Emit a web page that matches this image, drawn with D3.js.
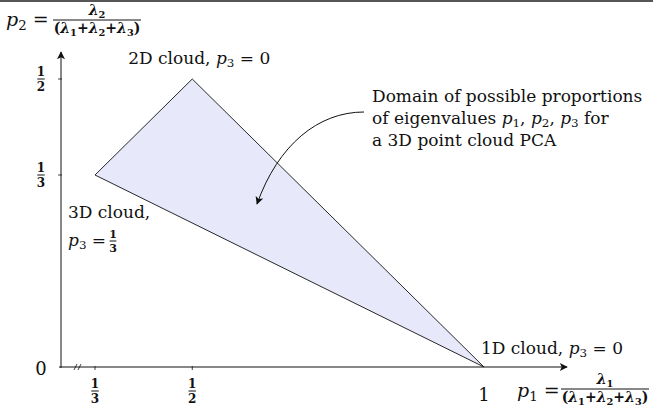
<!DOCTYPE html>
<html>
<head>
<meta charset="utf-8">
<script src="https://cdn.jsdelivr.net/npm/d3@7"></script>
<style>
body { margin: 0; background: #fff; }
svg text { font-family: "DejaVu Serif", serif; fill: #111; }
</style>
</head>
<body>
<svg id="chart" width="653" height="414"></svg>
<script>
// triangle of possible eigenvalue proportions (p1, p2)
var vertices = [
  {p1: 1/3, p2: 1/3, name: "3D"},
  {p1: 1/2, p2: 1/2, name: "2D"},
  {p1: 1,   p2: 0,   name: "1D"}
];
var xTicks = [{v: 1/3, num: "1", den: "3"}, {v: 1/2, num: "1", den: "2"}, {v: 1, label: "1"}];
var yTicks = [{v: 0, label: "0"}, {v: 1/3, num: "1", den: "3"}, {v: 1/2, num: "1", den: "2"}];

var svg = d3.select("#chart");

var x = d3.scaleLinear().domain([1/3, 1]).range([95, 484]);
var y = d3.scaleLinear().domain([0, 1/2]).range([367, 79]);

var axisX0 = 61, axisY0 = y(0);

// top border line
svg.append("line").attr("x1", 0).attr("x2", 653).attr("y1", 1).attr("y2", 1)
    .attr("stroke", "#555").attr("stroke-width", 2);

var defs = svg.append("defs");
defs.append("marker").attr("id", "arr")
    .attr("viewBox", "0 0 10 10").attr("refX", 9).attr("refY", 5)
    .attr("markerWidth", 9).attr("markerHeight", 8).attr("markerUnits", "userSpaceOnUse")
    .attr("orient", "auto")
  .append("path").attr("d", "M0,0 L10,5 L0,10 L2.5,5 Z").attr("fill", "#111");

// domain triangle
svg.append("path")
    .datum(vertices)
    .attr("d", d3.line().x(function(d) { return x(d.p1); }).y(function(d) { return y(d.p2); }).curve(d3.curveLinearClosed))
    .attr("fill", "#e8e8fb")
    .attr("stroke", "#111")
    .attr("stroke-width", 0.9);

// axes
svg.append("line").attr("x1", axisX0 - 2).attr("x2", 567).attr("y1", axisY0).attr("y2", axisY0)
    .attr("stroke", "#111").attr("stroke-width", 1).attr("marker-end", "url(#arr)");
svg.append("line").attr("x1", axisX0).attr("x2", axisX0).attr("y1", axisY0 + 1).attr("y2", 52)
    .attr("stroke", "#111").attr("stroke-width", 1).attr("marker-end", "url(#arr)");

// axis break marks
[0, 4].forEach(function(o) {
  svg.append("line").attr("x1", 74 + o).attr("x2", 77 + o).attr("y1", axisY0 + 3).attr("y2", axisY0 - 3)
      .attr("stroke", "#111").attr("stroke-width", 0.8);
});

function frac(g, cx, cy, num, den, size, weight) {
  var w = Math.max(num.length, den.length) * size * 0.62;
  g.append("text").attr("x", cx).attr("y", cy - 3).attr("text-anchor", "middle")
      .attr("font-size", size).attr("font-weight", weight).text(num);
  g.append("line").attr("x1", cx - w / 2).attr("x2", cx + w / 2).attr("y1", cy).attr("y2", cy)
      .attr("stroke", "#111").attr("stroke-width", 1);
  g.append("text").attr("x", cx).attr("y", cy + size).attr("text-anchor", "middle")
      .attr("font-size", size).attr("font-weight", weight).text(den);
}

// x ticks
xTicks.forEach(function(t) {
  var px = x(t.v);
  if (t.v < 1) {
    svg.append("line").attr("x1", px).attr("x2", px).attr("y1", axisY0 - 1).attr("y2", axisY0 + 3)
        .attr("stroke", "#111").attr("stroke-width", 0.8);
  }
  if (t.label) {
    svg.append("text").attr("x", px).attr("y", 401).attr("text-anchor", "middle")
        .attr("font-size", 18).text(t.label);
  } else {
    frac(svg, px, 391, t.num, t.den, 12, "bold");
  }
});

// y ticks
yTicks.forEach(function(t) {
  var py = y(t.v);
  if (t.v > 0) {
    svg.append("line").attr("x1", axisX0 - 3).attr("x2", axisX0 + 1).attr("y1", py).attr("y2", py)
        .attr("stroke", "#111").attr("stroke-width", 0.8);
  }
  if (t.label) {
    svg.append("text").attr("x", 41).attr("y", py + 8).attr("text-anchor", "middle")
        .attr("font-size", 18).text(t.label);
  } else {
    frac(svg, 41, py, t.num, t.den, 12, "bold");
  }
});

// math helper: parts are [text, italic, sub, back-to-baseline]
function mathText(g, xx, yy, parts, size, anchor, weight) {
  var t = g.append("text").attr("x", xx).attr("y", yy).attr("font-size", size)
      .attr("text-anchor", anchor || "start").attr("font-weight", weight || "normal");
  parts.forEach(function(p) {
    var s = t.append("tspan").text(p[0]);
    if (p[1]) s.attr("font-style", "italic");
    if (p[2]) s.attr("font-size", size * 0.7).attr("dy", size * 0.2);
    if (p[3]) s.attr("dy", -size * 0.2);
  });
  return t;
}

// axis titles
mathText(svg, 6, 26, [["p", 1], ["2", 0, 1], [" =", 0, 0, 1]], 19);
mathText(svg, 517, 397, [["p", 1], ["1", 0, 1], [" =", 0, 0, 1]], 19);

var sumParts = [["(", 0], ["λ", 1], ["1", 0, 1], ["+", 0, 0, 1], ["λ", 1], ["2", 0, 1], ["+", 0, 0, 1], ["λ", 1], ["3", 0, 1], [")", 0, 0, 1]];
function lambdaFrac(cx, cy, numSub) {
  mathText(svg, cx, cy - 5, [["λ", 1], [numSub, 0, 1]], 14, "middle", "bold");
  svg.append("line").attr("x1", cx - 44).attr("x2", cx + 44).attr("y1", cy).attr("y2", cy)
      .attr("stroke", "#111").attr("stroke-width", 1);
  mathText(svg, cx, cy + 13, sumParts, 14, "middle", "bold");
}
lambdaFrac(97, 20, "2");
lambdaFrac(605, 389, "1");

// vertex labels
var v3 = vertices[0], v2 = vertices[1], v1 = vertices[2];
mathText(svg, x(v2.p1) - 64, y(v2.p2) - 15, [["2D cloud, ", 0], ["p", 1], ["3", 0, 1], [" = 0", 0, 0, 1]], 17);
mathText(svg, x(v1.p1) - 3, y(v1.p2) - 13, [["1D cloud, ", 0], ["p", 1], ["3", 0, 1], [" = 0", 0, 0, 1]], 17);
mathText(svg, x(v3.p1) - 27, y(v3.p2) + 43, [["3D cloud,", 0]], 17);
mathText(svg, x(v3.p1) - 27, y(v3.p2) + 71, [["p", 1], ["3", 0, 1], [" =", 0, 0, 1]], 17);
frac(svg, x(v3.p1) + 18, y(v3.p2) + 66, "1", "3", 11, "bold");

// annotation
var note = ["Domain of possible proportions", null, "a 3D point cloud PCA"];
svg.append("text").attr("x", 372).attr("y", 102).attr("font-size", 17).text(note[0]);
mathText(svg, 372, 124, [["of eigenvalues ", 0], ["p", 1], ["1", 0, 1], [", ", 0, 0, 1], ["p", 1], ["2", 0, 1], [", ", 0, 0, 1], ["p", 1], ["3", 0, 1], [" for", 0, 0, 1]], 17);
svg.append("text").attr("x", 372).attr("y", 146).attr("font-size", 17).text(note[2]);

svg.append("path")
    .attr("d", "M364,112 C318,112 278,145 257,204")
    .attr("fill", "none").attr("stroke", "#111").attr("stroke-width", 1)
    .attr("marker-end", "url(#arr)");
</script>
</body>
</html>
